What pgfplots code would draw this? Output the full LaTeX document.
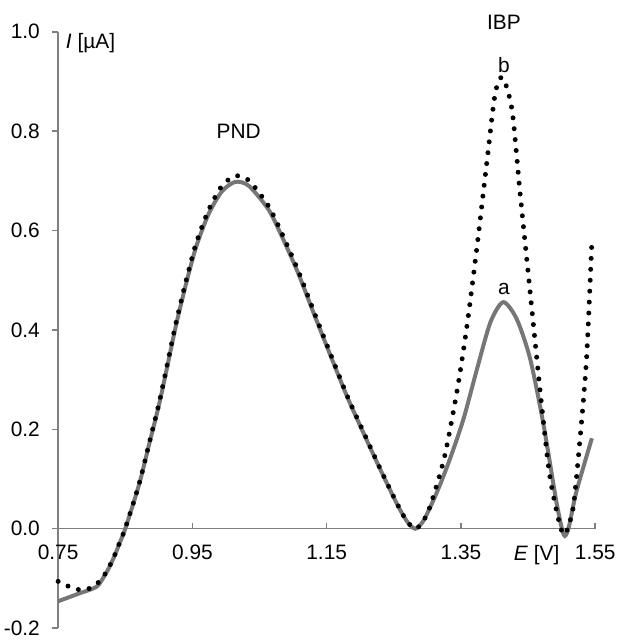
\documentclass[border=0pt]{standalone}
\usepackage{pgfplots}
\pgfplotsset{compat=1.18}
\usepackage{fontspec}
\setmainfont{Liberation Sans}
\definecolor{axgray}{RGB}{128,128,128}
\definecolor{curvegray}{RGB}{118,118,118}
\begin{document}
\begin{tikzpicture}
\useasboundingbox (-29.25pt,-6pt) rectangle (281.75pt,316pt);
\begin{axis}[
  scale only axis, width=270.25pt, height=300pt,
  xmin=0.75, xmax=1.55, ymin=-0.2, ymax=1.0,
  axis x line=middle, axis y line=left,
  axis line style={axgray, line width=0.8pt, -},
  xtick={0.75,0.95,1.15,1.35,1.55},
  xticklabels={0.75,0.95,1.15,1.35,1.55},
  ytick={-0.2,0,0.2,0.4,0.6,0.8,1.0},
  yticklabels={-0.2,0.0,0.2,0.4,0.6,0.8,1.0},
  hide obscured x ticks=false, hide obscured y ticks=false,
  major tick length=3pt,
  tick style={axgray, line width=0.8pt},
  xtick align=inside, ytick align=outside,
  x tick label style={font=\fontsize{10.5}{12}\selectfont, yshift=-4.6pt},
  y tick label style={font=\fontsize{10.5}{12}\selectfont, xshift=-2.7pt},
  clip=false,
]
\addplot[curvegray, line width=2pt, smooth, tension=0.45] coordinates {
(0.750,-0.146) (0.780,-0.131) (0.807,-0.117) (0.818,-0.097) (0.826,-0.078)
(0.834,-0.055) (0.841,-0.031) (0.850,0.000) (0.8706,0.089) (0.8854,0.169)
(0.9002,0.249) (0.9125,0.326) (0.925,0.406) (0.940,0.490) (0.955,0.565)
(0.974,0.633) (0.994,0.679) (1.014,0.698) (1.034,0.690) (1.063,0.643)
(1.083,0.589) (1.107,0.516) (1.132,0.429) (1.157,0.344) (1.181,0.264)
(1.206,0.189) (1.231,0.116) (1.255,0.049) (1.270,0.014) (1.282,0.000)
(1.295,0.018) (1.315,0.076) (1.334,0.142) (1.354,0.222) (1.374,0.322)
(1.394,0.416) (1.413,0.456) (1.433,0.422) (1.453,0.342) (1.473,0.209)
(1.492,0.055) (1.503,-0.012) (1.510,0.000) (1.522,0.075) (1.545,0.182)
};
\addplot[black, line width=2.5pt, line cap=round, dash pattern=on 0pt off 5.5pt, smooth, tension=0.45] coordinates {
(0.750,-0.106) (0.762,-0.114) (0.782,-0.123) (0.797,-0.120) (0.807,-0.112)
(0.818,-0.095) (0.826,-0.077) (0.834,-0.054) (0.841,-0.030) (0.850,0.001)
(0.8706,0.090) (0.8854,0.171) (0.9002,0.252) (0.9125,0.330) (0.925,0.411)
(0.940,0.496) (0.955,0.572) (0.974,0.641) (0.994,0.690) (1.014,0.710)
(1.034,0.701) (1.063,0.650) (1.083,0.595) (1.107,0.521) (1.132,0.433)
(1.157,0.347) (1.181,0.266) (1.206,0.191) (1.231,0.117) (1.255,0.050)
(1.270,0.014) (1.283,0.000) (1.295,0.018) (1.305,0.049) (1.325,0.142)
(1.344,0.276) (1.359,0.409) (1.374,0.569) (1.389,0.743) (1.401,0.876)
(1.412,0.908) (1.426,0.843) (1.438,0.676) (1.453,0.476) (1.468,0.276)
(1.482,0.109) (1.497,0.009) (1.505,-0.011) (1.517,0.042) (1.527,0.176)
(1.537,0.342) (1.545,0.579)
};
\node[anchor=west, font=\fontsize{10.5}{12}\selectfont, inner sep=0pt] at (axis cs:0.761,0.977) {\textit{I} [µA]};
\node[font=\fontsize{10.5}{12}\selectfont] at (axis cs:1.019,0.800) {PND};
\node[font=\fontsize{10.5}{12}\selectfont] at (axis cs:1.414,1.019) {IBP};
\node[font=\fontsize{10.5}{12}\selectfont] at (axis cs:1.414,0.933) {b};
\node[font=\fontsize{10.5}{12}\selectfont] at (axis cs:1.414,0.482) {a};
\node[font=\fontsize{10.5}{12}\selectfont] at (axis cs:1.4627,-0.054) {\textit{E} [V]};
\end{axis}
\end{tikzpicture}
\end{document}
